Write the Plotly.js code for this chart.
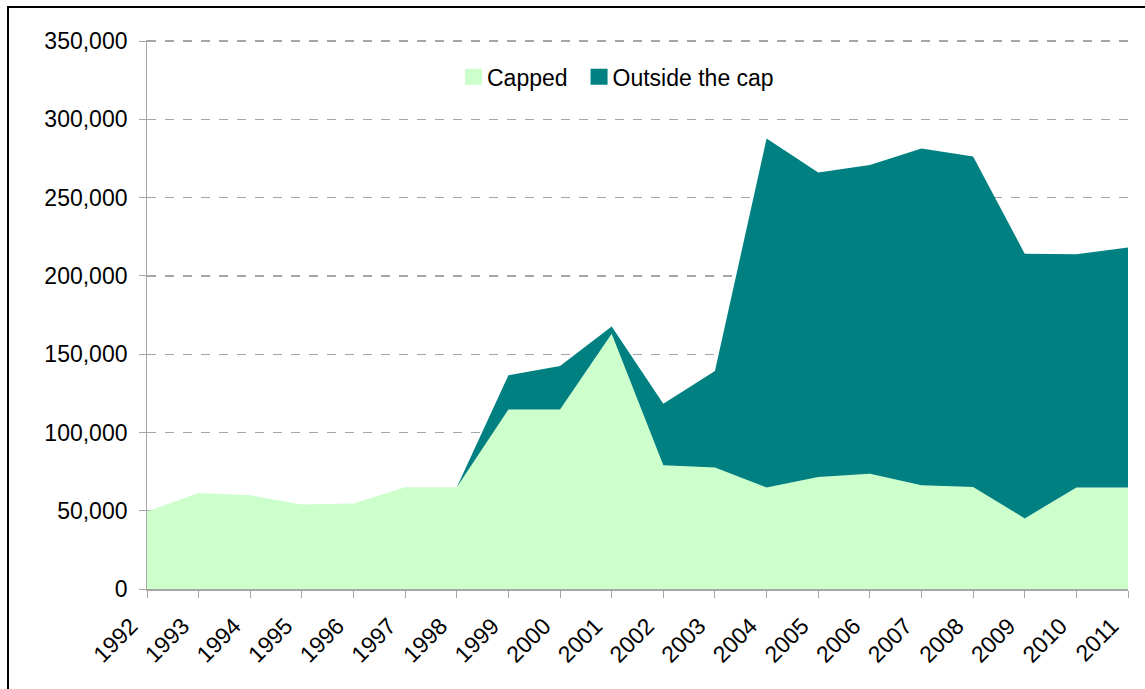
<!DOCTYPE html>
<html>
<head>
<meta charset="utf-8">
<script src="https://cdn.plot.ly/plotly-3.0.1.min.js"></script>
<style>
    html, body { margin: 0; padding: 0; background: #fff; }
    #chart { position: absolute; left: 0; top: 0; width: 1145px; height: 689px; }
    #frame {
        position: absolute; left: 7px; top: 6px; width: 1140px; height: 690px;
        border-left: 2px solid #000; border-top: 2px solid #000;
        pointer-events: none;
    }
</style>
</head>
<body>
<div id="chart"></div>
<div id="frame"></div>
<script>
var years = ['1992', '1993', '1994', '1995', '1996', '1997', '1998', '1999', '2000', '2001',
    '2002', '2003', '2004', '2005', '2006', '2007', '2008', '2009', '2010', '2011'];

// values
var capped = [49500, 61400, 59900, 54000, 54600, 65000, 65000, 114600, 114600, 163000,
    79000, 77600, 64800, 71600, 73700, 66300, 65200, 45100, 64800, 64800];
var outsideCap = [0, 0, 0, 0, 0, 0, 0, 22000, 27800, 4700,
    39400, 61600, 222900, 194400, 197200, 215100, 211100, 169100, 149000, 153400];

var seriesNames = ['Capped', 'Outside the cap'];
var seriesColors = ['#ccffcc', '#008080'];

var font = { family: 'Liberation Sans, Arial, sans-serif', size: 23, color: '#000' };
var gray = '#a6a6a6';

let areaTrace = (values, i) => ({
    x: years,
    y: values,
    type: 'scatter',
    mode: 'lines',
    name: seriesNames[i],
    stackgroup: 'one',
    line: { width: 0, color: seriesColors[i] },
    fillcolor: seriesColors[i]
});

var layout = {
    width: 1145,
    height: 689,
    margin: { l: 147, r: 17, t: 40, b: 100 },
    paper_bgcolor: 'rgba(0,0,0,0)',
    plot_bgcolor: 'rgba(0,0,0,0)',
    font: font,
    showlegend: true,
    legend: {
        orientation: 'h',
        traceorder: 'normal',
        x: 0.475, y: 0.933,
        xanchor: 'center', yanchor: 'middle',
        font: font,
        itemwidth: 30,
        bgcolor: 'rgba(0,0,0,0)'
    },
    xaxis: {
        type: 'category',
        range: [0, 19],
        tickangle: -45,
        ticks: 'outside',
        ticklen: 7,
        tickcolor: gray,
        ticklabelshift: -16,
        ticklabelstandoff: 6,
        showline: true,
        linecolor: gray,
        linewidth: 1.5,
        showgrid: false,
        tickfont: font,
        fixedrange: true
    },
    yaxis: {
        range: [0, 350700],
        dtick: 50000,
        tickformat: ',d',
        ticks: 'outside',
        ticklen: 7,
        tickcolor: gray,
        showline: true,
        linecolor: gray,
        linewidth: 1.5,
        showgrid: true,
        gridcolor: gray,
        gridwidth: 1.3,
        griddash: 'dash',
        zeroline: false,
        tickfont: font,
        ticksuffix: ' ',
        fixedrange: true
    }
};

Plotly.newPlot('chart', [areaTrace(capped, 0), areaTrace(outsideCap, 1)], layout,
    { displayModeBar: false, staticPlot: true })
    .then(() => {
        // square legend swatches like the original
        document.querySelectorAll('#chart .legendfill path').forEach(p => {
            p.setAttribute('d', 'M18,-8h17v16h-17z');
        });
    });
</script>
</body>
</html>
